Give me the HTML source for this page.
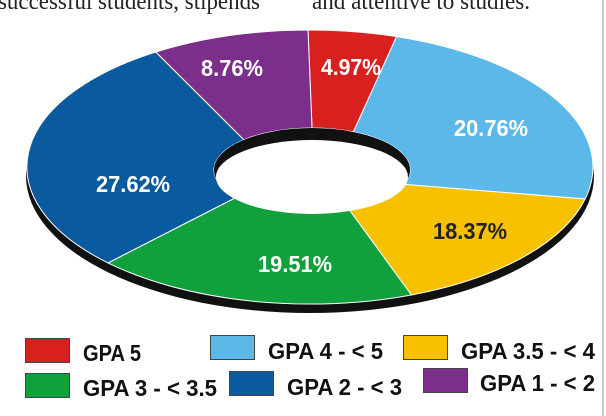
<!DOCTYPE html>
<html><head><meta charset="utf-8"><style>
html,body{margin:0;padding:0;background:#fff;}
svg{display:block}
.l{font-family:"Liberation Sans",sans-serif;font-weight:bold;font-size:23px;}
.g{font-family:"Liberation Sans",sans-serif;font-weight:bold;font-size:23px;fill:#111;}
</style></head><body>
<svg width="606" height="416" viewBox="0 0 606 416" xmlns="http://www.w3.org/2000/svg">
<text x="-2" y="9" font-family="Liberation Serif,serif" font-size="24" fill="#222" textLength="262" lengthAdjust="spacingAndGlyphs">successful students, stipends</text>
<text x="312" y="9" font-family="Liberation Serif,serif" font-size="24" fill="#222" textLength="218" lengthAdjust="spacingAndGlyphs">and attentive to studies.</text>
<line x1="603" y1="0" x2="603" y2="416" stroke="#999" stroke-width="1"/>
<ellipse cx="310" cy="176" rx="284" ry="137" fill="#111"/>
<g stroke="#fff" stroke-width="1">
<path d="M308,30 A283,137 0 0 1 396.6,36.6 L353.4,131.9 A98,42 0 0 0 312,128 Z" fill="#d8201f"/>
<path d="M396.6,36.6 A283,137 0 0 1 585.1,199 L404.1,184.4 A98,42 0 0 0 353.4,131.9 Z" fill="#5db8ea"/>
<path d="M585.1,199 A283,137 0 0 1 411.4,295 L348.7,208.9 A98,42 0 0 0 404.1,184.4 Z" fill="#f7c100"/>
<path d="M411.4,295 A283,137 0 0 1 108,262.9 L236.9,197 A98,42 0 0 0 348.7,208.9 Z" fill="#10a03c"/>
<path d="M108,262.9 A283,137 0 0 1 155.8,52 L243.9,139.8 A98,42 0 0 0 236.9,197 Z" fill="#0a5aa0"/>
<path d="M155.8,52 A283,137 0 0 1 308,30 L312,128 A98,42 0 0 0 243.9,139.8 Z" fill="#7b2f8b"/>
</g>
<ellipse cx="312" cy="170" rx="98" ry="42" fill="#111"/>
<ellipse cx="312" cy="177" rx="96" ry="37" fill="#fff"/>
<g class="l" fill="#fff" text-anchor="middle">
<text x="232" y="76" textLength="62" lengthAdjust="spacingAndGlyphs">8.76%</text>
<text x="351" y="75" textLength="60" lengthAdjust="spacingAndGlyphs">4.97%</text>
<text x="491" y="136" textLength="74" lengthAdjust="spacingAndGlyphs">20.76%</text>
<text x="133" y="192" textLength="74" lengthAdjust="spacingAndGlyphs">27.62%</text>
<text x="470" y="239" fill="#222" textLength="74" lengthAdjust="spacingAndGlyphs">18.37%</text>
<text x="295" y="272" textLength="74" lengthAdjust="spacingAndGlyphs">19.51%</text>
</g>
<g stroke="#444" stroke-width="1">
<rect x="25.5" y="338.5" width="44" height="24" fill="#d8201f"/>
<rect x="210.5" y="335.5" width="44" height="24" fill="#5db8ea"/>
<rect x="403.5" y="335.5" width="44" height="24" fill="#f7c100"/>
<rect x="25.5" y="373.5" width="44" height="24" fill="#10a03c"/>
<rect x="229.5" y="371.5" width="44" height="24" fill="#0a5aa0"/>
<rect x="423.5" y="368.5" width="44" height="24" fill="#7b2f8b"/>
</g>
<text class="g" x="83" y="361" textLength="58" lengthAdjust="spacingAndGlyphs">GPA 5</text>
<text class="g" x="268" y="359" textLength="115" lengthAdjust="spacingAndGlyphs">GPA 4 - &lt; 5</text>
<text class="g" x="461" y="359" textLength="134" lengthAdjust="spacingAndGlyphs">GPA 3.5 - &lt; 4</text>
<text class="g" x="83" y="396" textLength="134" lengthAdjust="spacingAndGlyphs">GPA 3 - &lt; 3.5</text>
<text class="g" x="287" y="395" textLength="115" lengthAdjust="spacingAndGlyphs">GPA 2 - &lt; 3</text>
<text class="g" x="480" y="391" textLength="115" lengthAdjust="spacingAndGlyphs">GPA 1 - &lt; 2</text>
</svg>
</body></html>
